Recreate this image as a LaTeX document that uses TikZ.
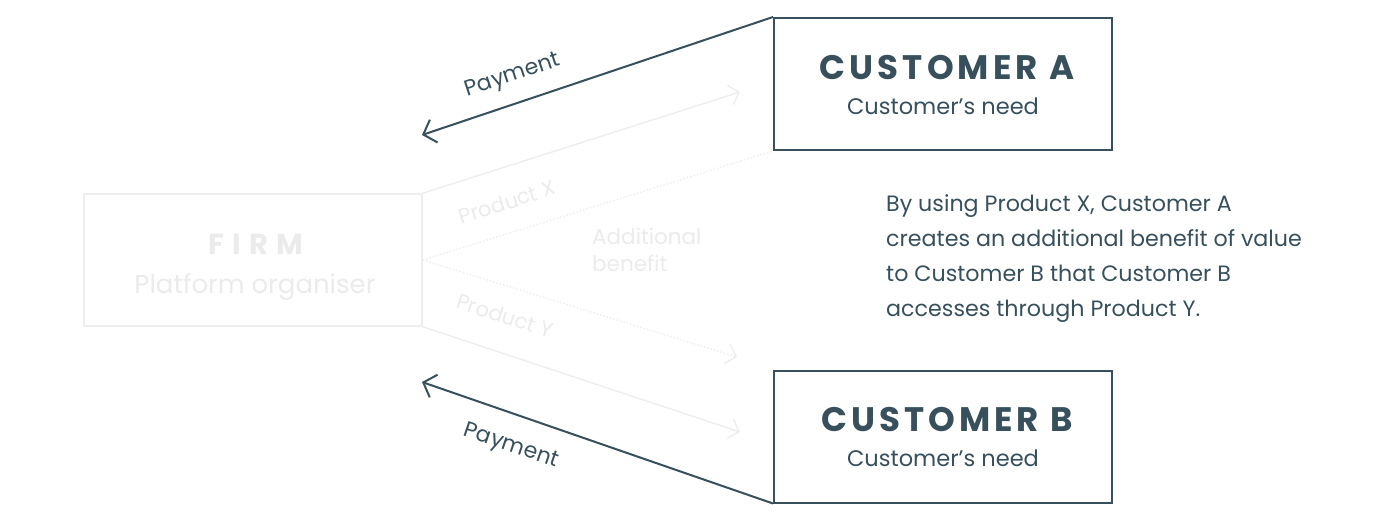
\documentclass[tikz,border=0pt]{standalone}
\usepackage{fontspec}
\setmainfont{Poppins}
\newfontfamily\headfont[LetterSpace=12]{Poppins}
\newfontfamily\firmfont[LetterSpace=28]{Poppins}
\usetikzlibrary{arrows.meta}
\definecolor{slate}{HTML}{37505C}
\definecolor{faint}{HTML}{EEEEEE}
\definecolor{fainttext}{HTML}{EBEBEB}
\tikzset{
  custbox/.style={draw=slate, line width=2pt, minimum width=338pt, minimum height=132pt, inner sep=0pt, fill=white},
  firmbox/.style={draw=faint, line width=1.5pt, minimum width=338pt, minimum height=132pt, inner sep=0pt},
  headtxt/.style={text=slate, inner sep=0pt, font=\headfont\bfseries\fontsize{34}{40}\selectfont},
  subtxt/.style={text=slate, inner sep=0pt, font=\fontsize{22.5}{26}\selectfont},
  paytip/.style={-{Straight Barb[length=11pt,width=24pt,line width=2pt]}},
  payline/.style={draw=slate, line width=2pt, paytip},
  faintline/.style={draw=faint, line width=1.5pt, -{Straight Barb[length=9pt,width=20pt,line width=1.5pt]}},
  faintdot/.style={draw=faint, line width=1.5pt, dotted},
  lbl/.style={text=slate, inner sep=0pt, font=\fontsize{22}{25}\selectfont},
  faintlbl/.style={text=fainttext, inner sep=0pt, font=\fontsize{21}{25}\selectfont},
}
\begin{document}
\begin{tikzpicture}[x=1pt,y=-1pt]
\useasboundingbox (0,0) rectangle (1375,521);
% faint firm
\node[firmbox] (firm) at (253,260) {};
\node[text=fainttext, inner sep=0pt, font=\firmfont\bfseries\fontsize{29}{32}\selectfont] (firmt) at (256,244) {FIRM};
\node[text=fainttext, inner sep=0pt, font=\fontsize{26}{30}\selectfont] (firms) at (255,287) {Platform organiser};
% customers
\node[custbox] (A) at (943,84) {};
\node[headtxt] (At) at (947,68) {CUSTOMER A};
\node[subtxt] (As) at (943,106) {Customer’s need};
\node[custbox] (B) at (943,436.5) {};
\node[headtxt] (Bt) at (947,420) {CUSTOMER B};
\node[subtxt] (Bs) at (943,458) {Customer’s need};
% coordinates
\coordinate (payA) at (422,135);
\coordinate (payB) at (422,382);
\coordinate (px) at (740,92);
\coordinate (py) at (740,432);
\coordinate (pd) at (737,357);
% faint connectors
\draw[faintline] (firm.north east) -- (px);
\draw[faintline] (firm.south east) -- (py);
\draw[faintdot] (firm.east) -- (A.south west);
\draw[faintdot, -{Straight Barb[length=9pt,width=20pt,line width=1.5pt]}] (firm.east) -- (pd);
\node[faintlbl, rotate=17.8] (lx) at (507,202) {Product X};
\node[faintlbl, rotate=-18] (ly) at (505,316) {Product Y};
\node[faintlbl, align=left, anchor=north west, font=\fontsize{21.5}{27}\selectfont] (ab) at (592,228) {Additional\\benefit};
% payment
\draw[payline] (A.north west) -- (payA);
\draw[payline] (B.south west) -- (payB);
\node[lbl, rotate=18.4] (pl1) at (513,76) {Payment};
\node[lbl, rotate=-18.8] (pl2) at (511,447) {Payment};
% text
\node[subtxt, align=left, anchor=north west, font=\fontsize{22.2}{35}\selectfont] (desc) at (886,194) {By using Product X, Customer A\\creates an additional benefit of value\\to Customer B that Customer B\\accesses through Product Y.};
\end{tikzpicture}
\end{document}
